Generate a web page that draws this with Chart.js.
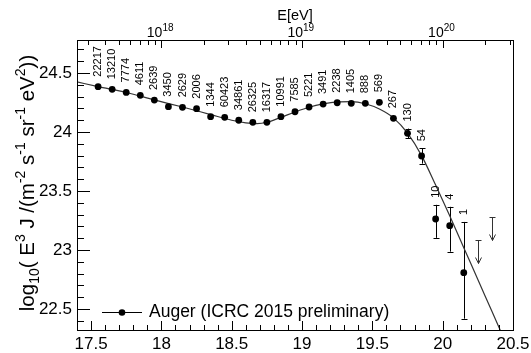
<!DOCTYPE html>
<html>
<head>
<meta charset="utf-8">
<script src="https://cdn.jsdelivr.net/npm/chart.js@4.4.1/dist/chart.umd.min.js"></script>
<style>
  html, body { margin: 0; padding: 0; background: #fff; }
</style>
</head>
<body>
<canvas id="myChart" width="531" height="353"></canvas>
<script>
const FONT = "'Liberation Sans', Arial, Helvetica, sans-serif";

// Auger spectrum: bin centres in log10(E/eV), flux values, errors, event counts
const lgE = [17.55, 17.65, 17.75, 17.85, 17.95, 18.05, 18.15, 18.25, 18.35, 18.45,
             18.55, 18.65, 18.75, 18.85, 18.95, 19.05, 19.15, 19.25, 19.35, 19.45,
             19.55, 19.65, 19.75, 19.85, 19.95, 20.05, 20.15];
const flux = [24.384, 24.362, 24.336, 24.311, 24.271, 24.215, 24.209, 24.198, 24.130, 24.125,
              24.100, 24.082, 24.082, 24.130, 24.172, 24.212, 24.237, 24.248, 24.243, 24.243,
              24.252, 24.116, 23.989, 23.797, 23.263, 23.206, 22.808];
const errUp = [0, 0, 0, 0, 0, 0, 0, 0, 0, 0,
               0, 0, 0, 0, 0, 0, 0, 0, 0, 0,
               0.01, 0.02, 0.04, 0.065, 0.12, 0.16, 0.43];
const errDown = [0, 0, 0, 0, 0, 0, 0, 0, 0, 0,
                 0, 0, 0, 0, 0, 0, 0, 0, 0, 0,
                 0.01, 0.02, 0.04, 0.065, 0.16, 0.22, 0.39];
const counts = ["22217", "13210", "7774", "4611", "2639", "3450", "2629", "2006", "1344", "60423",
                "34861", "26325", "16317", "10991", "7585", "5221", "3491", "2238", "1405", "888",
                "569", "267", "130", "54", "10", "4", "1"];

// upper limits
const limitE = [20.25, 20.35];
const limitFlux = [23.085, 23.282];

// fitted spectrum
const fitE = [17.40, 17.55, 17.75, 17.95, 18.15, 18.35, 18.50, 18.60, 18.68, 18.75,
              18.85, 18.95, 19.05, 19.15, 19.25, 19.35, 19.45, 19.55, 19.65, 19.75,
              19.85, 19.95, 20.05, 20.15, 20.25, 20.35, 20.45];
const fitFlux = [24.425, 24.385, 24.335, 24.272, 24.212, 24.148, 24.100, 24.078, 24.072, 24.083,
                 24.125, 24.170, 24.210, 24.238, 24.255, 24.258, 24.240, 24.195, 24.120, 23.990,
                 23.800, 23.550, 23.290, 23.020, 22.750, 22.480, 22.210];

// axes
const xTicks = [17.5, 18, 18.5, 19, 19.5, 20, 20.5];
const yTicks = [22.5, 23, 23.5, 24, 24.5];
const topDecades = [18, 19, 20];
const legendLabel = "Auger (ICRC 2015 preliminary)";
const topTitle = "E[eV]";

// y title as [text, kind] pieces (0 normal, 1 subscript, 2 superscript)
const yTitle = [["log", 0], ["10", 1], ["( E", 0], ["3", 2], [" J /(m", 0], ["-2", 2],
                [" s", 0], ["-1", 2], [" sr", 0], ["-1", 2], [" eV", 0], ["2", 2], ["))", 0]];

const crisp = (v) => Math.round(v) + 0.5;

const decor = {
  id: "decor",
  beforeDatasetsDraw(chart) {
    const { ctx, scales: { x, y } } = chart;
    ctx.save();
    ctx.strokeStyle = "#000";
    ctx.lineWidth = 1;
    // error bars
    lgE.forEach((e, i) => {
      const px = crisp(x.getPixelForValue(e));
      const top = y.getPixelForValue(flux[i] + errUp[i]);
      const bot = y.getPixelForValue(flux[i] - errDown[i]);
      if (bot - top < 8) return;
      ctx.beginPath();
      ctx.moveTo(px, top); ctx.lineTo(px, bot);
      ctx.moveTo(px - 3, Math.round(top) + 0.5); ctx.lineTo(px + 3, Math.round(top) + 0.5);
      ctx.moveTo(px - 3, Math.round(bot) + 0.5); ctx.lineTo(px + 3, Math.round(bot) + 0.5);
      ctx.stroke();
    });
    // upper limit arrows
    ctx.strokeStyle = "#333";
    limitE.forEach((e, i) => {
      const px = crisp(x.getPixelForValue(e));
      const top = Math.round(y.getPixelForValue(limitFlux[i])) + 0.5;
      const tip = top + 23;
      ctx.beginPath();
      ctx.moveTo(px - 3, top); ctx.lineTo(px + 3, top);
      ctx.moveTo(px, top); ctx.lineTo(px, tip);
      ctx.moveTo(px - 3, tip - 6); ctx.lineTo(px, tip); ctx.lineTo(px + 3, tip - 6);
      ctx.stroke();
    });
    ctx.restore();
  },
  afterDraw(chart) {
    const { ctx, chartArea: a, scales: { x, y } } = chart;
    ctx.save();
    ctx.strokeStyle = "#000";
    ctx.fillStyle = "#000";
    ctx.lineWidth = 1;
    // frame
    ctx.strokeRect(crisp(a.left), crisp(a.top), Math.round(a.right - a.left), Math.round(a.bottom - a.top));

    // inward tick marks
    ctx.beginPath();
    for (let k = 174; k <= 205; k++) {
      const px = crisp(x.getPixelForValue(k / 10));
      const len = k % 5 === 0 ? 9 : 5;
      ctx.moveTo(px, a.bottom); ctx.lineTo(px, a.bottom - len);
    }
    for (let k = 224; k <= 247; k++) {
      const py = crisp(y.getPixelForValue(k / 10));
      const len = k % 5 === 0 ? 13 : 7;
      ctx.moveTo(a.left, py); ctx.lineTo(a.left + len, py);
    }
    for (let d = 17; d <= 20; d++) {
      for (let m = 1; m <= 9; m++) {
        const v = d + Math.log10(m);
        if (v < x.min || v > x.max) continue;
        const px = crisp(x.getPixelForValue(v));
        const len = m === 1 ? 8 : 5;
        ctx.moveTo(px, a.top); ctx.lineTo(px, a.top + len);
      }
    }
    ctx.stroke();

    // top axis labels
    ctx.textBaseline = "alphabetic";
    topDecades.forEach((d) => {
      const px = x.getPixelForValue(d);
      ctx.font = "14px " + FONT;
      ctx.textAlign = "right";
      ctx.fillText("10", px + 1, 37);
      ctx.font = "10px " + FONT;
      ctx.textAlign = "left";
      ctx.fillText(String(d), px + 1, 31);
    });
    ctx.font = "14.5px " + FONT;
    ctx.textAlign = "center";
    ctx.fillText(topTitle, (a.left + a.right) / 2, 20);

    // event counts above the points
    ctx.font = "11px " + FONT;
    ctx.textAlign = "left";
    ctx.textBaseline = "middle";
    lgE.forEach((e, i) => {
      const px = x.getPixelForValue(e);
      const top = Math.min(y.getPixelForValue(flux[i] + errUp[i]), y.getPixelForValue(flux[i]) - 3);
      ctx.save();
      ctx.translate(px, top - 7);
      ctx.rotate(-Math.PI / 2);
      ctx.fillText(counts[i], 0, 0);
      ctx.restore();
    });

    // legend
    const ly = 312.5, lx = a.left + 25;
    ctx.beginPath();
    ctx.moveTo(lx, ly); ctx.lineTo(lx + 40, ly);
    ctx.stroke();
    ctx.beginPath();
    ctx.arc(lx + 20, ly, 3.3, 0, Math.PI * 2);
    ctx.fill();
    ctx.font = "17.5px " + FONT;
    ctx.fillText(legendLabel, lx + 47, ly);

    // y title with sub/superscripts
    const fonts = ["20.5px " + FONT, "14px " + FONT, "14px " + FONT];
    const shift = [0, 5, -9];
    let total = 0;
    yTitle.forEach(([t, k]) => { ctx.font = fonts[k]; total += ctx.measureText(t).width; });
    ctx.translate(34, 183);
    ctx.rotate(-Math.PI / 2);
    ctx.textBaseline = "alphabetic";
    let cur = -total / 2;
    yTitle.forEach(([t, k]) => {
      ctx.font = fonts[k];
      ctx.fillText(t, cur, shift[k]);
      cur += ctx.measureText(t).width;
    });
    ctx.restore();
  }
};

const ctx = document.getElementById("myChart").getContext("2d");
new Chart(ctx, {
  type: "scatter",
  data: {
    datasets: [
      {
        label: legendLabel,
        data: lgE.map((e, i) => ({ x: e, y: flux[i] })),
        pointRadius: 3.4,
        pointBackgroundColor: "#000",
        pointBorderColor: "#000",
        pointBorderWidth: 0,
        showLine: false,
        order: 0
      },
      {
        label: "fit",
        data: fitE.map((e, i) => ({ x: e, y: fitFlux[i] })),
        showLine: true,
        pointRadius: 0,
        borderColor: "#333",
        borderWidth: 1.2,
        cubicInterpolationMode: "monotone",
        order: 1
      },
      {
        label: "limits",
        data: limitE.map((e, i) => ({ x: e, y: limitFlux[i] })),
        pointRadius: 0,
        showLine: false,
        order: 2
      }
    ]
  },
  options: {
    responsive: false,
    devicePixelRatio: 1,
    animation: false,
    layout: { padding: { top: 40, right: 18, left: 0, bottom: 0 } },
    plugins: { legend: { display: false }, tooltip: { enabled: false } },
    scales: {
      x: {
        type: "linear",
        min: 17.4,
        max: 20.5,
        grid: { display: false, drawTicks: false },
        border: { display: false },
        ticks: {
          color: "#000",
          font: { size: 17, family: FONT },
          padding: 4,
          maxRotation: 0,
          autoSkip: false,
          callback: (v) => String(v)
        },
        afterBuildTicks: (s) => { s.ticks = xTicks.map((v) => ({ value: v })); },
        afterFit: (s) => { s.height = 23; s.paddingLeft = 0; s.paddingRight = 0; }
      },
      y: {
        type: "linear",
        min: 22.322,
        max: 24.78,
        grid: { display: false, drawTicks: false },
        border: { display: false },
        ticks: {
          color: "#000",
          font: { size: 17, family: FONT },
          padding: 5,
          autoSkip: false,
          callback: (v) => String(v)
        },
        afterBuildTicks: (s) => { s.ticks = yTicks.map((v) => ({ value: v })); },
        afterFit: (s) => { s.width = 77; s.paddingTop = 0; s.paddingBottom = 0; }
      }
    }
  },
  plugins: [decor]
});
</script>
</body>
</html>
